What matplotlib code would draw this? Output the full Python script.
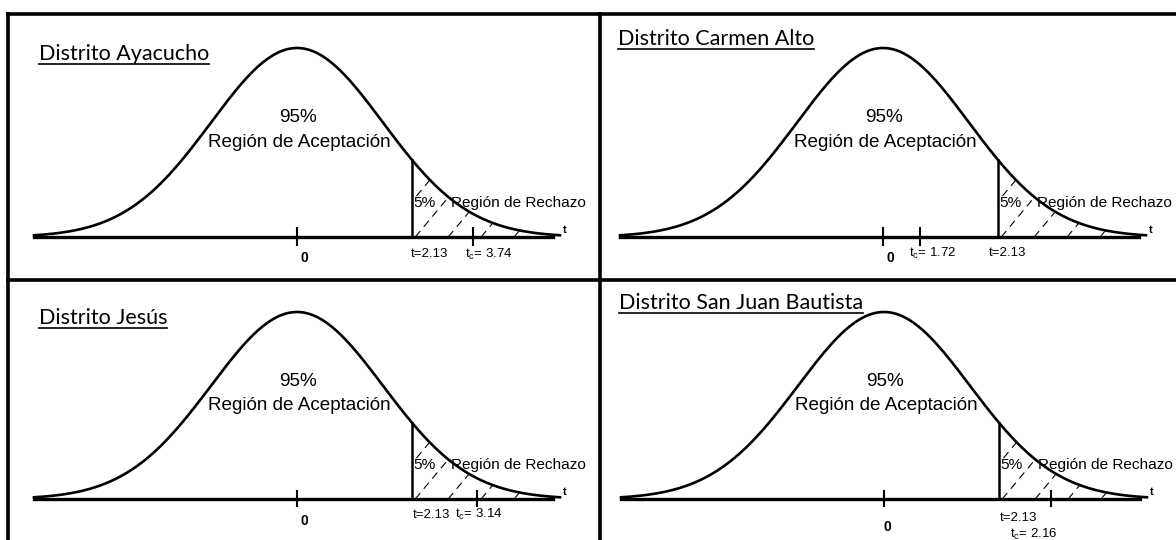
# -*- coding: utf-8 -*-
"""
Prueba t unilateral por distrito: region de aceptacion / rechazo
"""
import numpy as np
import matplotlib.pyplot as plt
from matplotlib import font_manager
from matplotlib.lines import Line2D
from matplotlib.patches import Polygon

# narrow Arial-like face if present, else plain Liberation Sans a bit smaller
try:
    font_manager.findfont('Liberation Sans Narrow', fallback_to_default=False)
    body = ['Liberation Sans Narrow', 'Liberation Sans', 'DejaVu Sans']
    k = 1.0
except ValueError:
    body = ['Liberation Sans', 'DejaVu Sans']
    k = 0.85
plt.rcParams['font.family'] = body
plt.rcParams['mathtext.default'] = 'regular'

# data
districts = ['Distrito Ayacucho', 'Distrito Carmen Alto',
             'Distrito Jesús', 'Distrito San Juan Bautista']
t_crit = 2.13
t_calc = [3.74, 1.72, 3.14, 2.16]
acc_pct = 95
rej_pct = 5

# the original sketch is not to scale: where each t_c mark sits on its axis
tc_mark = [3.26, 0.69, 3.33, 3.09]

# layout in pixels (cell box, centre x, baseline y, peak height)
W, H = 1176, 540
cells = [(8, 14, 600, 280), (600, 14, 1192, 280),
         (8, 280, 600, 546), (600, 280, 1192, 546)]
centers = [297, 883, 297, 884]
baselines = [237, 237, 499, 499]
heights = [189, 189, 187, 187]
sx = 54.0          # px per unit on the t axis
sigma = 1.59       # width of the drawn bell
title_pos = [(-4.78, 0.97), (-4.91, 1.05), (-4.78, 0.97), (-4.91, 1.05)]
lab_y = [(-0.09, -0.09, -0.11), (-0.085, -0.085, -0.11),
         (-0.085, -0.085, -0.12), (-0.10, -0.19, -0.15)]
lab_x = [(2.11, 3.11, 0.13), (1.96, 0.48, 0.13),
         (2.15, 2.93, 0.13), (2.15, 2.33, 0.07)]

fig = plt.figure(figsize=(W / 100, H / 100), dpi=100)

titles = []
for i in range(4):
    x0, y0, x1, y1 = cells[i]
    cx, base, sy = centers[i], baselines[i], heights[i]
    ax = fig.add_axes([x0 / W, 1 - y1 / H, (x1 - x0) / W, (y1 - y0) / H])
    ax.set_xlim((x0 - cx) / sx, (x1 - cx) / sx)
    ax.set_ylim((base - y1) / sy, (base - y0) / sy)
    ax.set_xticks([])
    ax.set_yticks([])
    for s in ['right', 'bottom']:
        ax.spines[s].set_visible(False)
    for s in ['top', 'left']:
        ax.spines[s].set_linewidth(2.6)

    x = np.linspace(-4.87, 4.87, 400)
    y = np.exp(-x ** 2 / (2 * sigma ** 2))
    ax.plot(x, y, color='black', lw=1.9)
    ax.plot([-4.87, 4.74], [0, 0], color='black', lw=2.4)
    ax.text(4.92, 0.01, 't', fontsize=8, fontweight='bold', va='bottom', ha='left')

    # rejection region
    xr = np.linspace(t_crit, 4.87, 200)
    yr = np.exp(-xr ** 2 / (2 * sigma ** 2))
    ax.plot([t_crit, t_crit], [0, np.exp(-t_crit ** 2 / (2 * sigma ** 2))],
            color='black', lw=1.8)
    poly = Polygon(np.column_stack([np.r_[t_crit, xr, t_crit], np.r_[0, yr, 0]]),
                   closed=True, facecolor='none', edgecolor='none')
    ax.add_patch(poly)
    slope = 1.2 * sx / sy
    for c in np.arange(0.97, 5.0, 0.61):
        hl, = ax.plot([c, c + 2], [0, 2 * slope], color='black', lw=0.8,
                      linestyle=(0, (7, 5)))
        hl.set_clip_path(poly)

    # marks on the axis
    for xm in [0, tc_mark[i]]:
        ax.plot([xm, xm], [-0.04, 0.045], color='black', lw=1.5)

    ax.text(0.02, 0.63, f'{acc_pct}%', fontsize=16 * k, ha='center', va='center')
    ax.text(0.05, 0.50, 'Región de Aceptación', fontsize=16 * k,
            ha='center', va='center')
    ax.text(2.16, 0.18, f'{rej_pct}%', fontsize=13 * k, ha='left', va='center')
    ax.text(2.86, 0.18, 'Región de Rechazo', fontsize=13 * k,
            ha='left', va='center')

    ax.text(lab_x[i][0], lab_y[i][0], f't={t_crit:.2f}', fontsize=9.5,
            ha='left', va='center')
    ax.text(lab_x[i][1], lab_y[i][1], f't$_c$= {t_calc[i]:.2f}',
            fontsize=9.5, ha='left', va='center')
    ax.text(lab_x[i][2], lab_y[i][2], '0', fontsize=10, fontweight='bold',
            family=['Liberation Sans', 'DejaVu Sans'], ha='center', va='center')

    tt = ax.text(title_pos[i][0], title_pos[i][1], districts[i], fontsize=15.5,
                 family=['Lato', 'DejaVu Sans'], ha='left', va='center')
    titles.append(tt)

# underline the district names
fig.canvas.draw()
for tt in titles:
    bb = tt.get_window_extent()
    yl = bb.y0 - 0.5
    fig.add_artist(Line2D([bb.x0 / W, bb.x1 / W], [yl / H, yl / H],
                          color='black', lw=1.2))

fig.savefig('out.png', dpi=100)
